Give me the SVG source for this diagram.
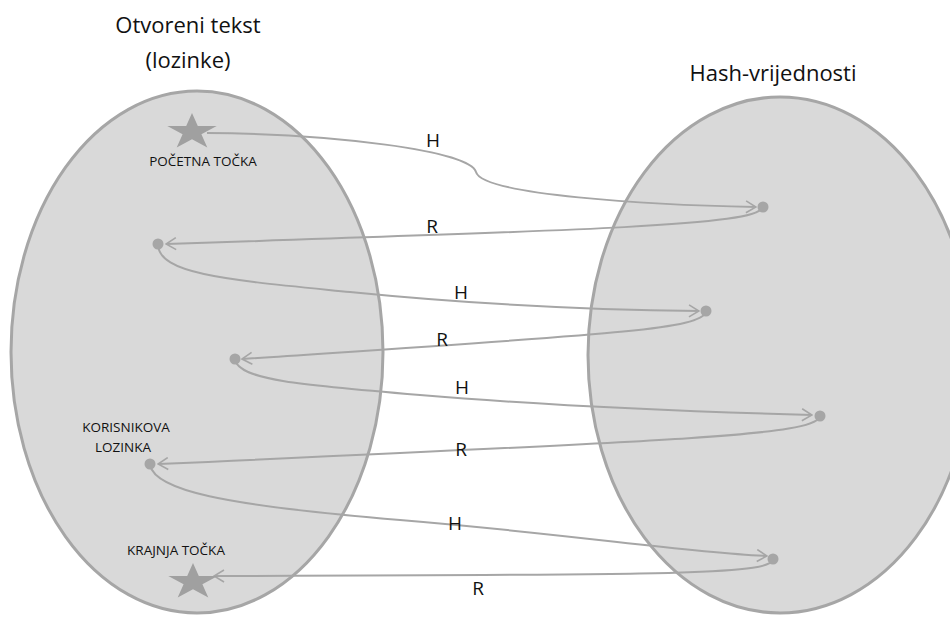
<svg xmlns="http://www.w3.org/2000/svg" width="950" height="618" viewBox="0 0 950 618">
<style>
.set{fill:#d9d9d9;stroke:#a6a6a6;stroke-width:3}
.title{font-family:"Open Sans","Liberation Sans",sans-serif;font-size:22px;fill:#111;text-anchor:middle}
.small{font-family:"Open Sans","Liberation Sans",sans-serif;font-size:13.5px;fill:#111;text-anchor:middle}
.lbl{font-family:"Open Sans","Liberation Sans",sans-serif;font-size:19px;fill:#111;text-anchor:middle}
.c{fill:none;stroke:#a6a6a6;stroke-width:2;marker-end:url(#arr)}
.dot{fill:#a6a6a6}
.star{fill:#a0a0a0}
</style>
<defs>
<marker id="arr" viewBox="0 0 12 14" refX="11" refY="7" markerWidth="12" markerHeight="14" markerUnits="userSpaceOnUse" orient="auto">
<path d="M1 1 L11 7 L1 13" fill="none" stroke="#a6a6a6" stroke-width="1.6"/>
</marker>
<polygon id="starshape" class="star" points="0,-19 5.8,-5.9 24.7,-5.9 9.4,2.2 15.3,15.4 0,7.3 -15.3,15.4 -9.4,2.2 -24.7,-5.9 -5.8,-5.9"/>
</defs>
<g id="plaintext">
<ellipse class="set" cx="197" cy="352" rx="186" ry="261"/>
<text class="title" x="188" y="33">Otvoreni tekst</text>
<text class="title" x="188" y="68">(lozinke)</text>
</g>
<g id="hashes">
<ellipse class="set" cx="780" cy="355" rx="192" ry="258"/>
<text class="title" x="773" y="81">Hash-vrijednosti</text>
</g>
<g id="connectors">
<path class="c" d="M207 133 C330 134 470 150 476 172 C482 195 650 205 756 207"/>
<path class="c" d="M762 208 C755 225 600 230 166 244"/>
<path class="c" d="M158 245 C160 275 230 280 350 292 S600 310 699 311"/>
<path class="c" d="M706 312 C700 330 600 335 242 359"/>
<path class="c" d="M235 360 C240 380 300 385 420 395 S700 412 812 415"/>
<path class="c" d="M820 417 C810 435 700 440 158 464"/>
<path class="c" d="M150 465 C155 490 220 505 400 520 S680 552 767 556"/>
<path class="c" d="M773 559 C770 574 700 575 214 576"/>
<text class="lbl" x="433" y="147">H</text>
<text class="lbl" x="432" y="233">R</text>
<text class="lbl" x="461" y="299">H</text>
<text class="lbl" x="442" y="346">R</text>
<text class="lbl" x="462" y="394">H</text>
<text class="lbl" x="461" y="456">R</text>
<text class="lbl" x="455" y="530">H</text>
<text class="lbl" x="478" y="595">R</text>
</g>
<g id="start">
<use href="#starshape" x="192" y="132"/>
<text class="small" x="203" y="166">POČETNA TOČKA</text>
</g>
<g id="p1"><circle class="dot" cx="158" cy="244" r="5.5"/></g>
<g id="p2"><circle class="dot" cx="235" cy="359" r="5.5"/></g>
<g id="user">
<circle class="dot" cx="150" cy="464" r="5.5"/>
<text class="small" x="126" y="432">KORISNIKOVA</text>
<text class="small" x="123" y="452">LOZINKA</text>
</g>
<g id="end">
<use href="#starshape" x="193" y="582"/>
<text class="small" x="176" y="555">KRAJNJA TOČKA</text>
</g>
<g id="h1"><circle class="dot" cx="763" cy="207" r="5.5"/></g>
<g id="h2"><circle class="dot" cx="706" cy="311" r="5.5"/></g>
<g id="h3"><circle class="dot" cx="820" cy="416" r="5.5"/></g>
<g id="h4"><circle class="dot" cx="773" cy="559" r="5.5"/></g>
</svg>
